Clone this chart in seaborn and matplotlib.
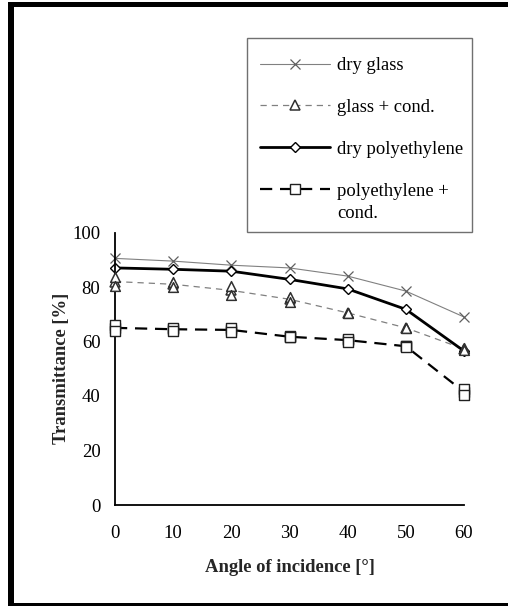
import matplotlib
matplotlib.use("Agg")
import matplotlib.pyplot as plt
import numpy as np
import pandas as pd
import seaborn as sns
from matplotlib.patches import Rectangle

# ---- data ----
angles = [0, 10, 20, 30, 40, 50, 60]
dry_glass = [90.5, 89.5, 88.0, 87.0, 84.0, 78.5, 69.0]
glass_cond_a = [83.5, 82.0, 80.5, 76.5, 70.5, 65.0, 57.5]
glass_cond_b = [80.5, 80.0, 77.0, 74.5, 70.5, 65.0, 57.0]
dry_poly = [87.0, 86.5, 85.8, 82.8, 79.3, 71.8, 56.5]
poly_cond_a = [66.0, 65.0, 65.0, 62.0, 61.0, 58.5, 42.5]
poly_cond_b = [64.0, 64.0, 63.5, 61.5, 60.0, 58.0, 40.5]
series_names = ["dry glass", "glass + cond.", "dry polyethylene", "polyethylene +"]
x_ticks = [0, 10, 20, 30, 40, 50, 60]
y_ticks = [0, 20, 40, 60, 80, 100]

rows = []
for name, reps in zip(series_names,
                      [[dry_glass], [glass_cond_a, glass_cond_b],
                       [dry_poly], [poly_cond_a, poly_cond_b]]):
    for rep in reps:
        for a, v in zip(angles, rep):
            rows.append({"angle": a, "value": v, "series": name})
df = pd.DataFrame(rows)

sns.set_theme(style="white")
plt.rcParams["font.family"] = ["Liberation Serif", "DejaVu Serif"]

W, H = 508, 606
fig = plt.figure(figsize=(W / 100, H / 100), dpi=100)
fig.patch.set_facecolor("white")
ax = fig.add_axes([115 / W, 1 - 505 / H, (464 - 115) / W, (505 - 232.5) / H])

styles = {
    "dry glass": dict(color="#808080", lw=0.8, ls="-", marker="x", ms=7,
                      mec="#606060", mew=0.9),
    "glass + cond.": dict(color="#808080", lw=0.9, ls=(0, (5, 4)), marker="^", ms=7,
                          mec="#303030", mew=1.1),
    "dry polyethylene": dict(color="black", lw=2.0, ls="-", marker="D", ms=5,
                             mec="black", mew=1.0),
    "polyethylene +": dict(color="black", lw=1.6, ls=(0, (5.5, 3.5)), marker="s", ms=6.5,
                           mec="#202020", mew=1.0),
}

for name in series_names:
    st = styles[name]
    sub = df[df["series"] == name]
    sns.lineplot(data=sub, x="angle", y="value", errorbar=None, ax=ax,
                 color=st["color"], lw=st["lw"], linestyle=st["ls"],
                 marker=st["marker"], markersize=st["ms"],
                 markerfacecolor="white" if st["marker"] != "x" else st["mec"],
                 markeredgecolor=st["mec"], markeredgewidth=st["mew"],
                 label=name)
    if sub["angle"].duplicated().any():
        sns.scatterplot(data=sub, x="angle", y="value", ax=ax, marker=st["marker"],
                        s=st["ms"] ** 2, facecolor="white", edgecolor=st["mec"],
                        linewidth=st["mew"], legend=False, zorder=5)

for l in ax.lines:
    l.set_clip_on(False)
for c in ax.collections:
    c.set_clip_on(False)

ax.set_xlim(0, 60)
ax.set_ylim(0, 100)
ax.set_xticks(x_ticks)
ax.set_yticks(y_ticks)
ax.set_xticklabels([str(t) for t in x_ticks], fontsize=13.5)
ax.set_yticklabels([str(t) for t in y_ticks], fontsize=13.5)
ax.tick_params(axis="both", direction="inout", length=7, width=1.2, colors="black",
               labelcolor="black")
ax.tick_params(axis="x", pad=11)
ax.tick_params(axis="y", pad=7)
for s in ["top", "right"]:
    ax.spines[s].set_visible(False)
for s in ["left", "bottom"]:
    ax.spines[s].set_color("black")
    ax.spines[s].set_linewidth(1.3)
ax.set_xlabel("Angle of incidence [°]", fontsize=13.4, fontweight="bold", labelpad=12)
ax.set_ylabel("Transmittance [%]", fontsize=13.4, fontweight="bold", labelpad=2)
ax.set_facecolor("white")

handles, labels = ax.get_legend_handles_labels()
leg = ax.legend(handles, labels, loc="upper left",
                bbox_to_anchor=(260 / W, 1 - 57 / H), bbox_transform=fig.transFigure,
                frameon=False, handlelength=3.75, handletextpad=0.4, labelspacing=1.34,
                fontsize=13.4, borderpad=0, borderaxespad=0, numpoints=1)
for t in leg.get_texts():
    t.set_color("black")
fig.text(337 / W, 1 - 213 / H, "cond.", fontsize=13.4, ha="left", va="center",
         color="black")

# legend box
fig.patches.append(Rectangle((247 / W, 1 - 232 / H), (472 - 247) / W, (232 - 38) / H,
                             transform=fig.transFigure, facecolor="none",
                             edgecolor="#707070", lw=1.0, zorder=0))

# outer black frame (left, top, bottom)
blk = dict(transform=fig.transFigure, facecolor="black", edgecolor="none", zorder=10)
fig.patches.append(Rectangle((8 / W, 0), 6 / W, (H - 2) / H, **blk))
fig.patches.append(Rectangle((8 / W, 1 - 7 / H), (W - 8) / W, 5 / H, **blk))
fig.patches.append(Rectangle((8 / W, 0), (W - 8) / W, 3.5 / H, **blk))

fig.savefig("out.png", dpi=100, facecolor="white")
